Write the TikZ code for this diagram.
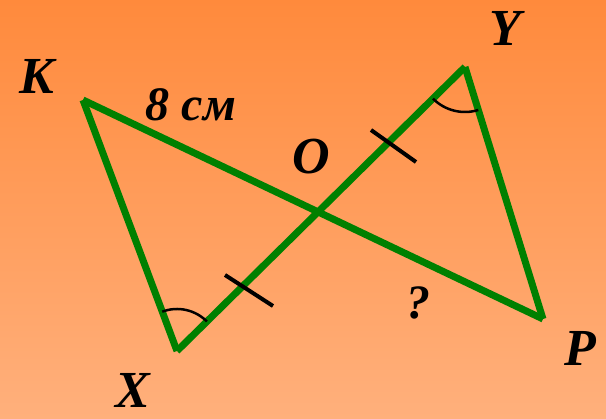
\documentclass[tikz,border=0pt]{standalone}
\usepackage{fontspec}
\setmainfont{Liberation Serif}
\definecolor{bgtop}{RGB}{255,138,60}
\definecolor{bgbot}{RGB}{255,176,124}
\definecolor{seg}{RGB}{0,128,0}
\begin{document}
\begin{tikzpicture}[x=1pt,y=1pt,
  seg/.style={draw=seg,line width=7pt,line cap=butt},
  tick/.style={draw=black,line width=4pt},
  ang/.style={draw=black,line width=2.5pt},
  lbl/.style={inner sep=0pt,anchor=base,font=\fontsize{52}{52}\selectfont\bfseries\itshape},
  lbls/.style={inner sep=0pt,anchor=base,font=\fontsize{48}{48}\selectfont\bfseries\itshape}]
\shade[top color=bgtop,bottom color=bgbot] (0,0) rectangle (606,419);
\useasboundingbox (0,0) rectangle (606,419);
\coordinate (K) at (83,319);
\coordinate (X) at (177,68);
\coordinate (Y) at (465,352);
\coordinate (P) at (543,100);
\coordinate (O) at (319.3,206.2);
\coordinate (t1a) at (225,144);
\coordinate (t1b) at (273,113);
\coordinate (t2a) at (371,289);
\coordinate (t2b) at (416,257);
\draw[seg] (K) -- (P);
\draw[seg] (X) -- (Y);
\draw[seg] (K) -- (X);
\draw[seg] (Y) -- (P);
\draw[tick] (t1a) -- (t1b);
\draw[tick] (t2a) -- (t2b);
\draw[ang] ([shift={(110.5:42)}]X) arc[start angle=110.5,end angle=44.6,radius=42];
\draw[ang] ([shift={(224.6:45)}]Y) arc[start angle=224.6,end angle=287.2,radius=45];
\node[lbl] (lK) at (37,325) {K};
\node[lbl] (lY) at (505,373) {Y};
\node[lbl] (lX) at (133,11) {X};
\node[lbl] (lP) at (580,53) {P};
\node[lbl] (lO) at (311,245) {O};
\node[lbls] (l8) at (191,298) {8 см};
\node[lbls] (lq) at (418,100) {?};
\end{tikzpicture}
\end{document}
